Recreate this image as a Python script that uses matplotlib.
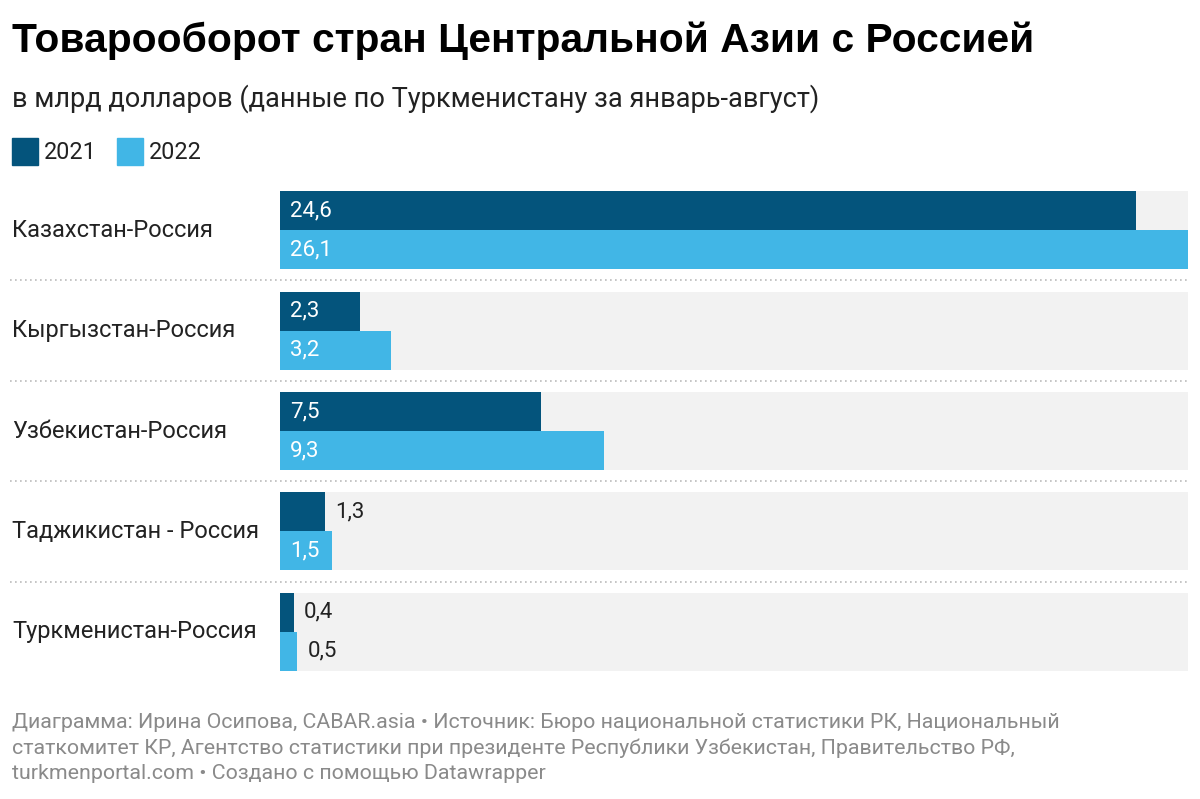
import matplotlib
matplotlib.use("Agg")
import matplotlib.pyplot as plt
from matplotlib.patches import Rectangle
from matplotlib.transforms import blended_transform_factory

# данные
countries = ["Казахстан-Россия", "Кыргызстан-Россия", "Узбекистан-Россия",
             "Таджикистан - Россия", "Туркменистан-Россия"]
v2021 = [24.6, 2.3, 7.5, 1.3, 0.4]
v2022 = [26.1, 3.2, 9.3, 1.5, 0.5]
years = ["2021", "2022"]

title = "Товарооборот стран Центральной Азии с Россией"
subtitle = "в млрд долларов (данные по Туркменистану за январь-август)"
footer = ["Диаграмма: Ирина Осипова, CABAR.asia • Источник: Бюро национальной статистики РК, Национальный",
          "статкомитет КР, Агентство статистики при президенте Республики Узбекистан, Правительство РФ,",
          "turkmenportal.com • Создано с помощью Datawrapper"]

c21 = "#04547c"
c22 = "#41b6e6"
bg = "#f2f2f2"

plt.rcParams['font.family'] = ['Roboto', 'DejaVu Sans']

W, H = 1200, 799
fig = plt.figure(figsize=(W / 100, H / 100), dpi=100)

def fy(px):
    return 1 - px / H

ax = fig.add_axes([280 / W, fy(682), 908 / W, 502 / H])
xmax = max(v2022 + v2021)
ax.set_xlim(0, xmax)
ax.set_ylim(len(countries) - 0.5, -0.5)
ax.axis("off")

hb = 0.388
ys = list(range(len(countries)))
ax.barh(ys, [xmax] * len(ys), height=2 * hb, left=0, color=bg, zorder=0)
ax.barh([y - hb / 2 for y in ys], v2021, height=hb, color=c21, zorder=1)
ax.barh([y + hb / 2 for y in ys], v2022, height=hb, color=c22, zorder=1)

# подписи значений
pad = 10 * xmax / 908
for i in ys:
    for val, off in ((v2021[i], -hb / 2), (v2022[i], hb / 2)):
        s = f"{val:.1f}".replace(".", ",")
        if val >= 1.5:
            ax.text(pad, i + off, s, color="white", fontsize=16, va="center", ha="left", zorder=2)
        else:
            ax.text(val + pad, i + off, s, color="#222222", fontsize=16, va="center", ha="left", zorder=2)

# категории и разделители
tr = blended_transform_factory(fig.transFigure, ax.transData)
for i, name in enumerate(countries):
    ax.text(12 / W, i, name, transform=tr, fontsize=17, va="center", ha="left", color="#222222")
for i in range(len(countries) - 1):
    ax.plot([10 / W, 1188 / W], [i + 0.5, i + 0.5], transform=tr, clip_on=False,
            color="#bbbbbb", lw=1.2, ls=(0, (1, 2)))

# заголовки
fig.text(12 / W, fy(52), title, fontsize=29.3, fontweight="bold", family=["Liberation Sans", "DejaVu Sans"],
         va="baseline", ha="left", color="black")
fig.text(12 / W, fy(107), subtitle, fontsize=19.5, va="baseline", ha="left", color="#222222")

# легенда
lx = 12
for lab, col in zip(years, [c21, c22]):
    fig.patches.append(Rectangle((lx / W, fy(165)), 26 / W, 27 / H, transform=fig.transFigure,
                                 color=col, figure=fig))
    fig.text((lx + 32) / W, fy(159), lab, fontsize=16.8, va="baseline", ha="left", color="#222222")
    lx += 105

for k, line in enumerate(footer):
    fig.text(12 / W, fy(728 + 25.5 * k), line, fontsize=15.4, va="baseline", ha="left", color="#8a8a8a")

fig.savefig("out.png", dpi=100)
